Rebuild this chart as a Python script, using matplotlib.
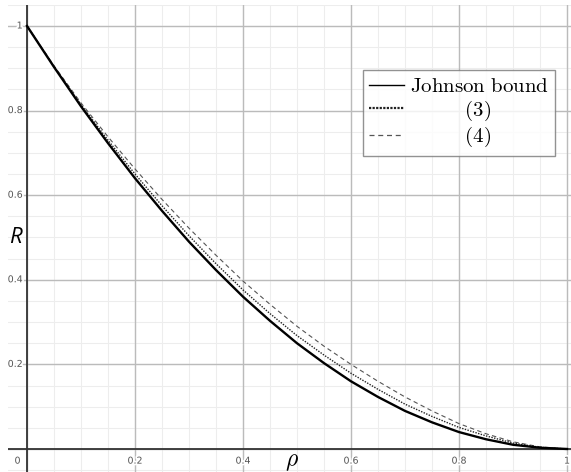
import matplotlib.pyplot as plt
import matplotlib.patheffects as pe
from matplotlib.lines import Line2D

# values (rho step 0.05)
rho = [0, 0.05, 0.1, 0.15, 0.2, 0.25, 0.3, 0.35, 0.4, 0.45, 0.5,
       0.55, 0.6, 0.65, 0.7, 0.75, 0.8, 0.85, 0.9, 0.95, 1.0]
johnson = [1.0, 0.903, 0.81, 0.723, 0.64, 0.563, 0.49, 0.423, 0.36, 0.303, 0.25,
           0.203, 0.16, 0.123, 0.09, 0.063, 0.04, 0.023, 0.01, 0.003, 0.0]
eq3 = [1.0, 0.904, 0.814, 0.730, 0.650, 0.575, 0.504, 0.438, 0.376, 0.320, 0.268,
       0.222, 0.179, 0.141, 0.106, 0.077, 0.051, 0.031, 0.014, 0.004, 0.0]
eq4 = [1.0, 0.906, 0.818, 0.738, 0.662, 0.590, 0.522, 0.458, 0.397, 0.342, 0.290,
       0.243, 0.200, 0.160, 0.123, 0.090, 0.060, 0.036, 0.017, 0.005, 0.0]
tick_vals = [0.2, 0.4, 0.6, 0.8, 1]
tick_text = ['0.2', '0.4', '0.6', '0.8', '1']

plt.rcParams['mathtext.fontset'] = 'cm'

fig = plt.figure(figsize=(5.71, 4.72), dpi=100)
ax = fig.add_axes([8 / 571, 0, 1 - 8 / 571, 467 / 472])
ax.set_xlim(-0.0352, 1.0074)
ax.set_ylim(-0.0544, 1.0496)

# desmos-like grid
minor = [i * 0.05 for i in range(-1, 22)]
major = [i * 0.2 for i in range(0, 6)]
for v in minor:
    ax.axvline(v, color='#ededed', lw=0.8, zorder=0)
    ax.axhline(v, color='#ededed', lw=0.8, zorder=0)
for v in major:
    ax.axvline(v, color='#bbbbbb', lw=1.0, zorder=0)
    ax.axhline(v, color='#bbbbbb', lw=1.0, zorder=0)
ax.axvline(0, color='#333333', lw=1.3, zorder=1)
ax.axhline(0, color='#333333', lw=1.3, zorder=1)

for s in ax.spines.values():
    s.set_visible(False)
ax.set_xticks([])
ax.set_yticks([])

halo = [pe.withStroke(linewidth=2.5, foreground='white')]
lab = dict(fontsize=6.8, color='#555555', path_effects=halo, zorder=3)
ax.text(-0.012, -0.018, '0', ha='right', va='top', **lab)
for v, t in zip(tick_vals, tick_text):
    ax.text(v, -0.018, t, ha='center', va='top', **lab)
    ax.text(-0.008, v, t, ha='right', va='center', **lab)

ax.text(-0.033, 0.5, 'R', fontsize=16, style='italic', family='Open Sans',
        ha='left', va='center')
ax.text(0.49, -0.028, r'$\rho$', fontsize=17, ha='center', va='center')

ax.plot(rho, eq4, color='#555555', lw=0.8, ls=(0, (4, 3)), zorder=2)
ax.plot(rho, eq3, color='#222222', lw=1.0, ls=(0, (1, 1)), zorder=2)
ax.plot(rho, johnson, color='black', lw=1.7, zorder=2)

handles = [Line2D([], [], color='black', lw=1.0),
           Line2D([], [], color='#222222', lw=1.6, ls=(0, (1, 0.6))),
           Line2D([], [], color='#555555', lw=0.9, ls=(0, (4, 3)))]
labels = [r'$\mathrm{Johnson\ bound}$', r'$\qquad\quad\mathrm{(3)}$',
          r'$\qquad\quad\mathrm{(4)}$']
leg = fig.legend(handles, labels, loc='upper right', bbox_to_anchor=(0.972, 0.852),
                 borderaxespad=0, fontsize=15, frameon=True, fancybox=False,
                 edgecolor='#777777', handlelength=1.65, handletextpad=0.3,
                 labelspacing=0.12, borderpad=0.3)
leg.get_frame().set_linewidth(1.0)

fig.savefig('out.png', dpi=100)
